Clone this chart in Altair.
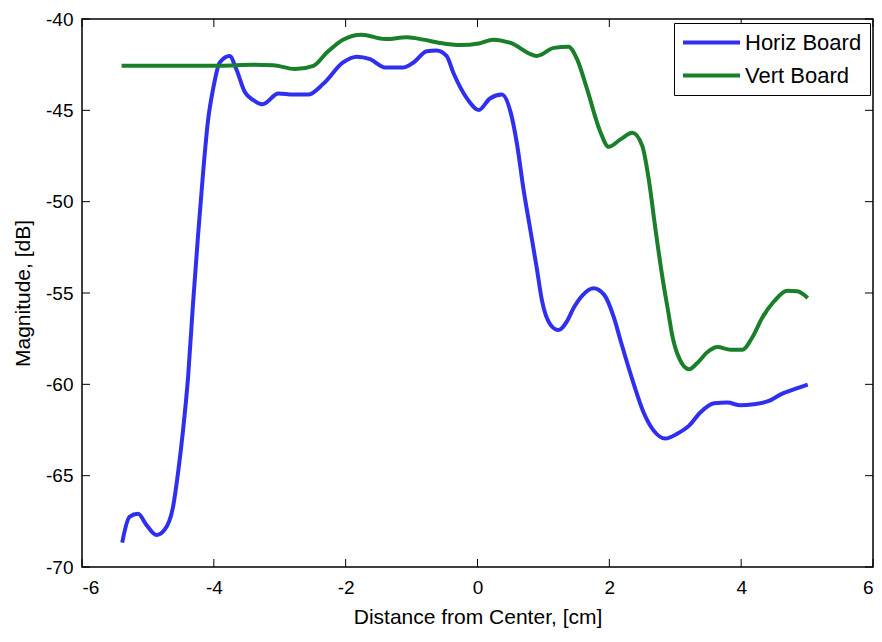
import altair as alt
import pandas as pd

# Horiz Board series
bx = [-5.39,-5.28,-5.15,-5.02,-4.87,-4.75,-4.62,-4.54,-4.47,-4.39,-4.32,-4.24,-4.16,-4.09,-4.01,
      -3.91,-3.76,-3.66,-3.53,-3.40,-3.26,-3.02,-2.80,-2.57,-2.34,-2.04,-1.83,-1.63,-1.40,-1.12,
      -0.97,-0.77,-0.62,-0.47,-0.36,-0.16,0.02,0.19,0.37,0.50,0.60,0.70,0.80,0.90,0.98,
      1.10,1.23,1.36,1.46,1.60,1.76,1.92,2.07,2.17,2.35,2.52,2.67,2.85,3.03,3.21,
      3.38,3.59,3.79,3.99,4.19,4.42,4.60,4.80,5.01]
by = [-68.66,-67.26,-67.09,-67.71,-68.25,-67.98,-66.73,-64.76,-62.61,-59.57,-55.8,-51.87,-48.29,-45.61,-43.81,
      -42.38,-42.02,-42.74,-44.0,-44.44,-44.67,-44.08,-44.14,-44.14,-43.55,-42.38,-42.06,-42.2,-42.65,-42.65,
      -42.38,-41.76,-41.72,-42.02,-43.0,-44.35,-44.98,-44.35,-44.14,-45.07,-46.86,-49.37,-51.51,-53.66,-55.45,
      -56.70,-57.03,-56.53,-55.81,-55.1,-54.74,-55.09,-56.35,-57.6,-59.75,-61.54,-62.52,-62.97,-62.70,-62.26,
      -61.54,-61.04,-61.0,-61.15,-61.09,-60.91,-60.55,-60.28,-60.02]

# Vert Board series
gx = [-5.40,-3.91,-3.40,-3.10,-2.77,-2.49,-2.29,-2.04,-1.76,-1.40,-1.07,-0.82,-0.57,-0.26,0.02,
      0.24,0.50,0.90,1.16,1.38,1.51,1.66,1.86,1.99,2.17,2.35,2.50,2.60,2.70,2.80,
      2.90,2.95,3.03,3.21,3.33,3.49,3.64,3.84,4.02,4.17,4.32,4.50,4.70,4.85,5.01]
gy = [-42.56,-42.56,-42.51,-42.53,-42.74,-42.56,-41.85,-41.13,-40.86,-41.10,-41.0,-41.13,-41.31,-41.43,-41.34,
      -41.13,-41.31,-42.02,-41.58,-41.52,-42.20,-43.81,-46.14,-47.0,-46.59,-46.23,-46.95,-48.83,-51.51,-54.02,
      -56.17,-57.24,-58.31,-59.17,-58.85,-58.23,-57.96,-58.10,-58.10,-57.42,-56.35,-55.45,-54.88,-54.91,-55.27]

series_names = ["Horiz Board", "Vert Board"]
series_colors = ["#2f2ff0", "#1a7f2a"]

x_ticks = [-6, -4, -2, 0, 2, 4, 6]
y_ticks = [-70, -65, -60, -55, -50, -45, -40]

W, H = 791, 548
FONT = "Liberation Sans"

df = pd.concat([
    pd.DataFrame({"x": bx, "y": by, "series": series_names[0], "order": range(len(bx))}),
    pd.DataFrame({"x": gx, "y": gy, "series": series_names[1], "order": range(len(gx))}),
])

xscale = alt.Scale(domain=[-6, 6], nice=False, zero=False)
yscale = alt.Scale(domain=[-70, -40], nice=False, zero=False)

lines = alt.Chart(df).mark_line(strokeWidth=4, interpolate="monotone").encode(
    x=alt.X("x:Q", scale=xscale, title="Distance from Center, [cm]",
            axis=alt.Axis(values=x_ticks, ticks=False, tickSize=0, labelPadding=11,
                          titlePadding=9, domain=False, grid=False,
                          labelExpr="toString(datum.value)")),
    y=alt.Y("y:Q", scale=yscale, title="Magnitude, [dB]",
            axis=alt.Axis(values=y_ticks, ticks=False, tickSize=0, labelPadding=9,
                          titlePadding=12, domain=False, grid=False,
                          labelExpr="toString(datum.value)")),
    color=alt.Color("series:N", scale=alt.Scale(domain=series_names, range=series_colors),
                    legend=alt.Legend(title=None, orient="none", legendX=592, legendY=4,
                                      symbolType="M-3,0H3", symbolSize=361, symbolStrokeWidth=4,
                                      symbolOffset=18, labelOffset=22,
                                      labelFontSize=22, labelFont=FONT, labelColor="black",
                                      strokeColor="black", fillColor="white", padding=8,
                                      rowPadding=10, cornerRadius=0)),
    order="order:Q",
)

xt = pd.DataFrame({"v": x_ticks})
yt = pd.DataFrame({"v": y_ticks})

tick_bottom = alt.Chart(xt).mark_rule(color="black", strokeWidth=1).encode(
    x=alt.X("v:Q", scale=xscale), y=alt.value(H), y2=alt.value(H - 8))
tick_top = alt.Chart(xt).mark_rule(color="black", strokeWidth=1).encode(
    x=alt.X("v:Q", scale=xscale), y=alt.value(0), y2=alt.value(8))
tick_left = alt.Chart(yt).mark_rule(color="black", strokeWidth=1).encode(
    y=alt.Y("v:Q", scale=yscale), x=alt.value(0), x2=alt.value(8))
tick_right = alt.Chart(yt).mark_rule(color="black", strokeWidth=1).encode(
    y=alt.Y("v:Q", scale=yscale), x=alt.value(W), x2=alt.value(W - 8))

chart = alt.layer(tick_bottom, tick_top, tick_left, tick_right, lines).properties(
    width=W, height=H,
    autosize=alt.AutoSizeParams(type="none"),
    padding={"left": 74, "top": 11, "right": 1, "bottom": 67},
    background="white",
).configure_view(
    stroke="black", strokeWidth=1.5
).configure_axis(
    labelFont=FONT, labelFontSize=19, labelColor="black",
    titleFont=FONT, titleFontSize=21, titleColor="black", titleFontWeight="normal",
)

chart.save("out.html", embed_options={"renderer": "svg", "actions": False})
